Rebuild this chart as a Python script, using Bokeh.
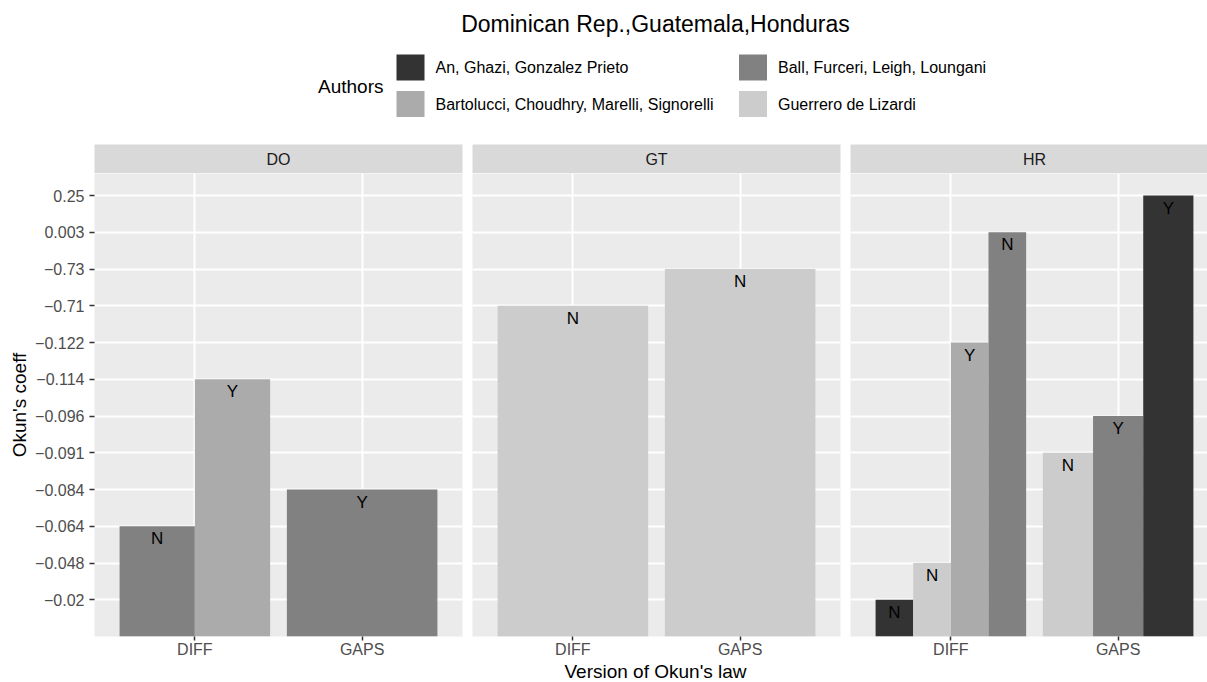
from bokeh.plotting import figure
from bokeh.layouts import column, row
from bokeh.models import ColumnDataSource, FixedTicker, Range1d, Grid
from bokeh.embed import file_html
from bokeh.resources import INLINE
from bokeh.core.properties import value

# ---------------- data ----------------
title_text = "Dominican Rep.,Guatemala,Honduras"
legend_title = "Authors"
x_title = "Version of Okun's law"
y_title = "Okun's coeff"

panels = ["DO", "GT", "HR"]
versions = ["DIFF", "GAPS"]

authors = ["An,  Ghazi,  Gonzalez Prieto",
           "Ball, Furceri, Leigh, Loungani",
           "Bartolucci,  Choudhry, Marelli, Signorelli",
           "Guerrero de Lizardi"]
author_colors = ["#333333", "#818181", "#ABABAB", "#CCCCCC"]

# discrete y levels (factor order, bottom to top)
coef_levels = ["-0.02", "-0.048", "-0.064", "-0.084", "-0.091", "-0.096",
               "-0.114", "-0.122", "-0.71", "-0.73", "0.003", "0.25"]

bar_country = ["DO", "DO", "DO", "GT", "GT", "HR", "HR", "HR", "HR", "HR", "HR", "HR"]
bar_version = ["DIFF", "DIFF", "GAPS", "DIFF", "GAPS", "DIFF", "DIFF", "DIFF", "DIFF", "GAPS", "GAPS", "GAPS"]
bar_author = [authors[1], authors[2], authors[1], authors[3], authors[3],
              authors[0], authors[3], authors[2], authors[1],
              authors[3], authors[1], authors[0]]
bar_coef = ["-0.064", "-0.114", "-0.084", "-0.71", "-0.73",
            "-0.02", "-0.048", "-0.122", "0.003",
            "-0.091", "-0.096", "0.25"]
bar_signif = ["N", "Y", "Y", "N", "N", "N", "N", "Y", "N", "N", "Y", "Y"]

# ---------------- layout constants ----------------
FONT = "Liberation Sans"
TOTAL_W = 1207
HEADER_H = 144
STRIP_H = 29
PANEL_H = 465
AXIS_H = 22
FOOTER_H = 22
FRAME_W = 368
LEFT_BORDER = 94
HALF_GAP = 5
DODGE_W = 0.9
LABEL_DROP = 0.34

n_lev = len(coef_levels)
y_max = n_lev + 0.6
x_lo, x_hi = 0.4, len(versions) + 0.6


def minus(s):
    return s.replace("-", "\u2212")


# dodge positions
groups = {}
for c, v in zip(bar_country, bar_version):
    groups[(c, v)] = groups.get((c, v), 0) + 1
seen = {}
bx, bw, btop, bcol = [], [], [], []
for c, v, a, k in zip(bar_country, bar_version, bar_author, bar_coef):
    n = groups[(c, v)]
    j = seen.get((c, v), 0)
    seen[(c, v)] = j + 1
    w = DODGE_W / n
    bx.append(versions.index(v) + 1 - DODGE_W / 2 + (j + 0.5) * w)
    bw.append(w)
    btop.append(coef_levels.index(k) + 1)
    bcol.append(author_colors[authors.index(a)])


def x_range_for(width, left, right):
    frame_w = width - left - right
    return Range1d(x_lo, x_lo + (x_hi - x_lo) * frame_w / FRAME_W)


def make_strip(country, width, left, right):
    s = figure(width=width, height=STRIP_H, title=None,
               x_range=x_range_for(width, left, right), y_range=Range1d(0, 1),
               output_backend="svg", toolbar_location=None,
               x_axis_location=None, y_axis_location=None,
               min_border_left=left, min_border_right=right,
               min_border_top=0, min_border_bottom=0,
               background_fill_color="#D9D9D9", border_fill_color="white",
               outline_line_color=None)
    s.grid.visible = False
    s.text(x=[(x_lo + x_hi) / 2], y=[0.5], text=[country], text_font=value(FONT),
           text_font_size="16px", text_color="#1A1A1A", text_align="center",
           text_baseline="middle")
    return s


def make_panel(country, width, left, right, show_y):
    p = figure(width=width, height=PANEL_H + AXIS_H, title=None,
               x_range=x_range_for(width, left, right), y_range=Range1d(0, y_max),
               output_backend="svg", toolbar_location=None,
               y_axis_location="left" if show_y else None,
               min_border_left=left, min_border_right=right,
               min_border_top=0, min_border_bottom=AXIS_H,
               background_fill_color="#EBEBEB", border_fill_color="white",
               outline_line_color=None)
    p.grid.visible = False
    p.add_layout(Grid(dimension=0, ticker=FixedTicker(ticks=[1, 2]),
                      grid_line_color="white", grid_line_width=2), "center")
    p.add_layout(Grid(dimension=1, ticker=FixedTicker(ticks=list(range(1, n_lev + 1))),
                      grid_line_color="white", grid_line_width=2), "center")

    xa = p.xaxis[0]
    xa.ticker = FixedTicker(ticks=[1, 2])
    xa.major_label_overrides = {i + 1: v for i, v in enumerate(versions)}
    xa.axis_line_color = None
    xa.minor_tick_line_color = None
    xa.major_tick_in = 0
    xa.major_tick_out = 4
    xa.major_tick_line_color = "#333333"
    xa.major_tick_line_width = 1.5
    xa.major_label_standoff = 0
    xa.major_label_text_font = FONT
    xa.major_label_text_font_size = "16px"
    xa.major_label_text_color = "#4D4D4D"

    if show_y:
        ya = p.yaxis[0]
        ya.ticker = FixedTicker(ticks=list(range(1, n_lev + 1)))
        ya.major_label_overrides = {i + 1: minus(s) for i, s in enumerate(coef_levels)}
        ya.axis_line_color = None
        ya.minor_tick_line_color = None
        ya.major_tick_in = 0
        ya.major_tick_out = 5
        ya.major_tick_line_color = "#333333"
        ya.major_tick_line_width = 1.5
        ya.major_label_standoff = 5
        ya.major_label_text_font = FONT
        ya.major_label_text_font_size = "16px"
        ya.major_label_text_color = "#4D4D4D"
        ya.axis_label = y_title
        ya.axis_label_standoff = 2
        ya.axis_label_text_font = FONT
        ya.axis_label_text_font_size = "19px"
        ya.axis_label_text_font_style = "normal"
        ya.axis_label_text_color = "black"

    idx = [i for i, c in enumerate(bar_country) if c == country]
    src = ColumnDataSource(dict(
        x=[bx[i] for i in idx], w=[bw[i] for i in idx], top=[btop[i] for i in idx],
        color=[bcol[i] for i in idx], lab=[bar_signif[i] for i in idx],
        ly=[btop[i] - LABEL_DROP for i in idx]))
    p.vbar(x="x", width="w", top="top", bottom=0, fill_color="color",
           line_color=None, source=src)
    p.text(x="x", y="ly", text="lab", source=src, text_font=value(FONT),
           text_font_size="17px", text_color="black", text_align="center",
           text_baseline="middle")
    return p


w_do = LEFT_BORDER + FRAME_W + HALF_GAP
w_gt = 2 * HALF_GAP + FRAME_W
w_hr = TOTAL_W - w_do - w_gt
specs = [(panels[0], w_do, LEFT_BORDER, HALF_GAP, True),
         (panels[1], w_gt, HALF_GAP, HALF_GAP, False),
         (panels[2], w_hr, HALF_GAP, 0, False)]
strips = [make_strip(c, w, l, r) for c, w, l, r, _ in specs]
plots = [make_panel(c, w, l, r, sy) for c, w, l, r, sy in specs]

# ---------------- header: title + legend ----------------
h = figure(width=TOTAL_W, height=HEADER_H, title=None,
           x_range=Range1d(0, TOTAL_W), y_range=Range1d(HEADER_H, 0),
           output_backend="svg", toolbar_location=None,
           x_axis_location=None, y_axis_location=None,
           min_border=0, outline_line_color=None,
           background_fill_color="white", border_fill_color="white")
h.grid.visible = False
h.text(x=[655], y=[23], text=[title_text], text_font=value(FONT),
       text_font_size="23px", text_color="black", text_align="center",
       text_baseline="middle")

kx0, kdx, ky0, kdy = 410, 342.5, 67, 36.5
kx = [kx0 + (i % 2) * kdx for i in range(len(authors))]
ky = [ky0 + (i // 2) * kdy for i in range(len(authors))]
lsrc = ColumnDataSource(dict(x=kx, y=ky, tx=[x + 25 for x in kx], name=authors,
                             color=author_colors))
h.rect(x="x", y="y", width=28, height=26, fill_color="color", line_color=None,
       source=lsrc)
h.text(x="tx", y="y", text="name", source=lsrc, text_font=value(FONT),
       text_font_size="16px", text_color="black", text_align="left",
       text_baseline="middle")
h.text(x=[383], y=[86], text=[legend_title], text_font=value(FONT),
       text_font_size="19px", text_color="black", text_align="right",
       text_baseline="middle")

# ---------------- footer: x-axis title ----------------
f = figure(width=TOTAL_W, height=FOOTER_H, title=None,
           x_range=Range1d(0, TOTAL_W), y_range=Range1d(FOOTER_H, 0),
           output_backend="svg", toolbar_location=None,
           x_axis_location=None, y_axis_location=None,
           min_border=0, outline_line_color=None,
           background_fill_color="white", border_fill_color="white")
f.grid.visible = False
f.text(x=[655], y=[11], text=[x_title], text_font=value(FONT),
       text_font_size="19px", text_color="black", text_align="center",
       text_baseline="middle")

layout = column(h, row(*strips), row(*plots), f)
open("out.html", "w").write(file_html(layout, INLINE))
